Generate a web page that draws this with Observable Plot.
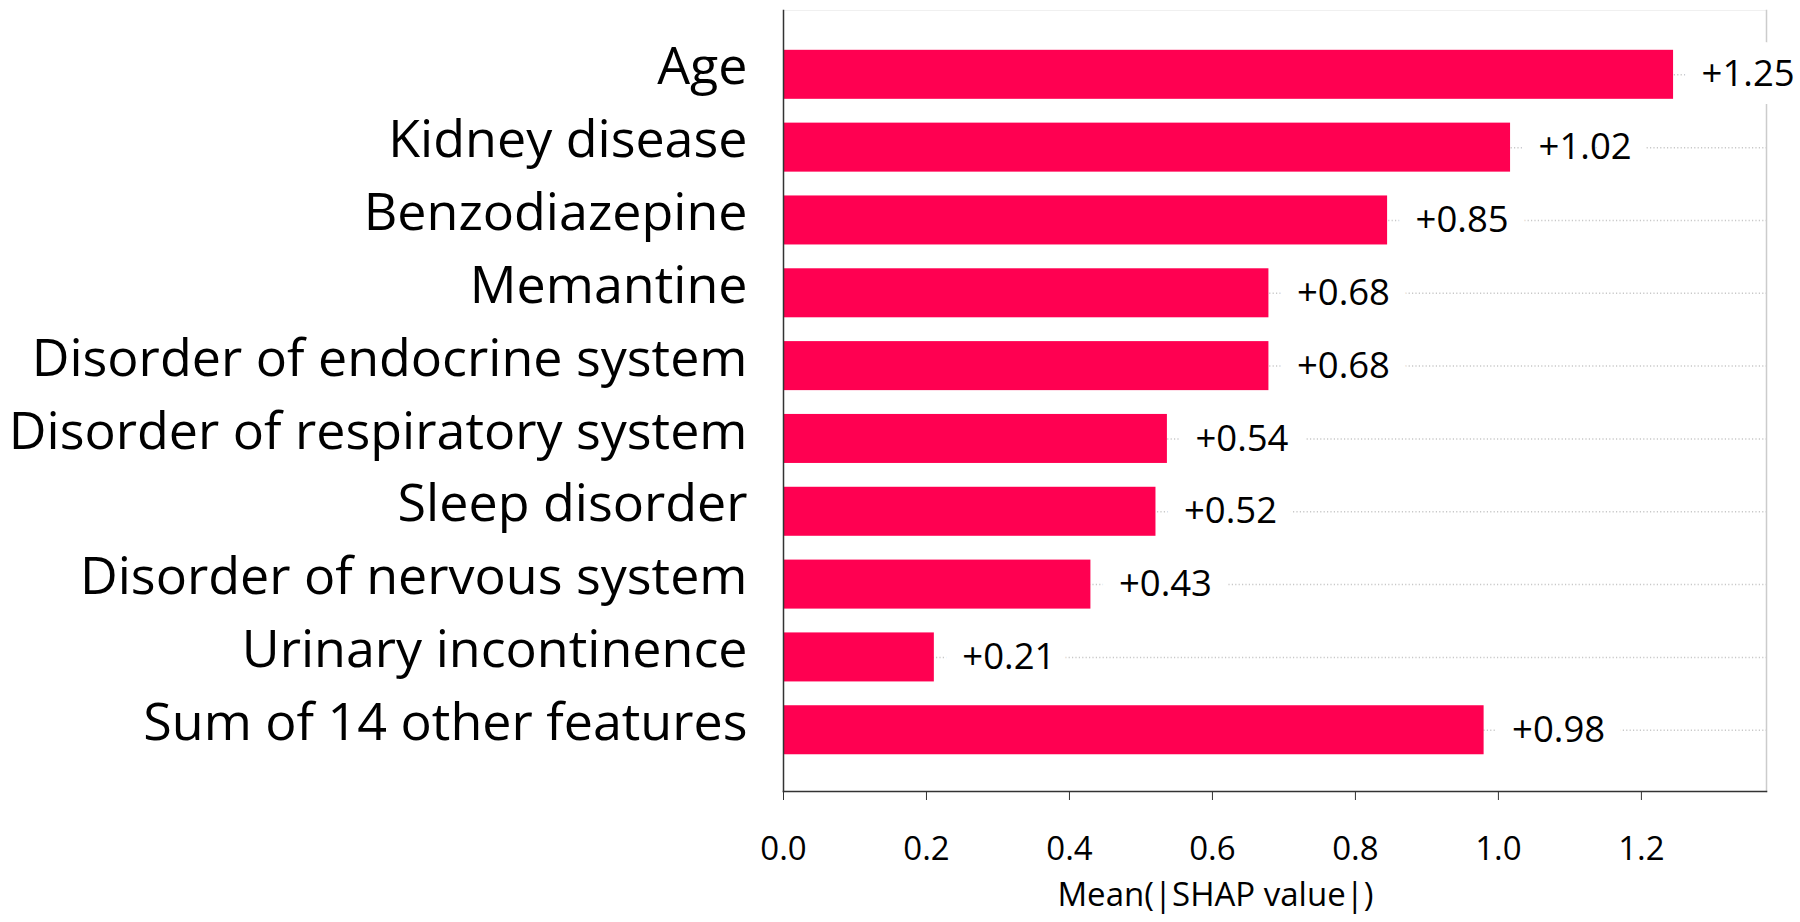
<!DOCTYPE html>
<html>
<head>
<meta charset="utf-8">
<script src="https://cdn.jsdelivr.net/npm/d3@7"></script>
<script src="https://cdn.jsdelivr.net/npm/@observablehq/plot@0.6"></script>
<style>
  html, body { margin: 0; padding: 0; background: #fff; }
  #chart { width: 1800px; height: 922px; }
</style>
</head>
<body>
<div id="chart"></div>
<script>
const features = [
  "Age",
  "Kidney disease",
  "Benzodiazepine",
  "Memantine",
  "Disorder of endocrine system",
  "Disorder of respiratory system",
  "Sleep disorder",
  "Disorder of nervous system",
  "Urinary incontinence",
  "Sum of 14 other features"
];
const values = [1.245, 1.017, 0.845, 0.679, 0.679, 0.537, 0.521, 0.430, 0.211, 0.980];
const valueLabels = ["+1.25", "+1.02", "+0.85", "+0.68", "+0.68", "+0.54", "+0.52", "+0.43", "+0.21", "+0.98"];
const xTicks = [0, 0.2, 0.4, 0.6, 0.8, 1.0, 1.2];
const xTitle = "Mean(|SHAP value|)";

const data = features.map((f, i) => ({feature: f, value: values[i], label: valueLabels[i]}));

const chart = Plot.plot({
  width: 1800,
  height: 922,
  marginLeft: 783,
  marginRight: 34,
  marginTop: 10,
  marginBottom: 131,
  style: {fontFamily: "'Open Sans', sans-serif", background: "#fff", color: "#000"},
  x: {domain: [0, 1.375]},
  y: {domain: features, paddingInner: 0.327, paddingOuter: 0.5255, align: 0.52, round: false},
  marks: [
    Plot.frame({anchor: "top", stroke: "#f0f0f0"}),
    Plot.frame({anchor: "right", stroke: "#cccccc", strokeWidth: 1.5}),
    Plot.ruleY(features, {y: d => d, stroke: "#c8c8c8", strokeWidth: 1.5, strokeDasharray: "1.2,2.2"}),
    Plot.barX(data, {x: "value", y: "feature", fill: "#FF0051"}),
    Plot.text(data, {x: "value", y: "feature", text: "label", dx: 28, textAnchor: "start", fontSize: 36.5, fill: "#000", stroke: "#fff", strokeWidth: 36}),
    Plot.frame({anchor: "left", stroke: "#333", strokeWidth: 1.5}),
    Plot.frame({anchor: "bottom", stroke: "#333", strokeWidth: 1.5}),
    Plot.axisX({ticks: xTicks, tickFormat: d3.format(".1f"), tickSize: 9, tickPadding: 36, fontSize: 33, stroke: "#333", fill: "#000", label: null}),
    Plot.axisY({tickSize: 0, tickPadding: 36, fontSize: 52, dy: -7, fill: "#000", label: null}),
    Plot.text([xTitle], {frameAnchor: "bottom-left", textAnchor: "middle", dx: 432, dy: 114, fontSize: 33, fill: "#000"})
  ]
});
document.getElementById("chart").appendChild(chart);
</script>
</body>
</html>
